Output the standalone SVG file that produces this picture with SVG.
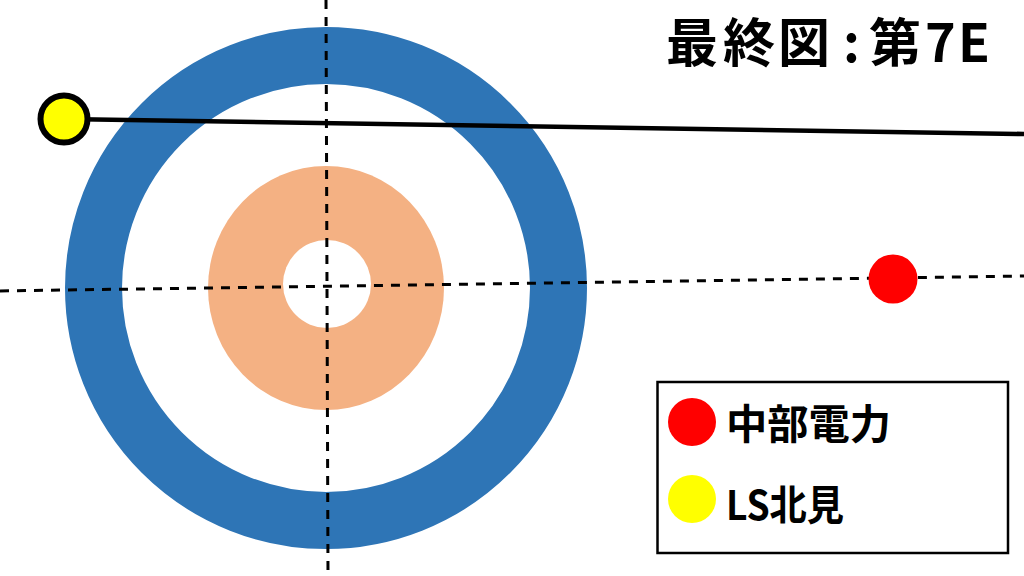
<svg xmlns="http://www.w3.org/2000/svg" width="1024" height="576" viewBox="0 0 1024 576">
  <style>
    .dash { stroke: #000; stroke-width: 3; stroke-dasharray: 9 8; fill: none; }
    .lbl { font-family: "Noto Sans CJK JP", "Liberation Sans", sans-serif; font-weight: bold; fill: #000; }
  </style>
  <rect width="1024" height="576" fill="#fff"/>
  <g id="house">
    <circle cx="326" cy="288" r="232.5" fill="none" stroke="#2E75B6" stroke-width="57"/>
    <ellipse cx="326" cy="288" rx="118" ry="122" fill="#F4B183"/>
    <circle cx="327" cy="284" r="44" fill="#fff"/>
  </g>
  <g id="connectors">
    <line class="dash" x1="326" y1="0" x2="328" y2="576"/>
    <line class="dash" x1="0" y1="291" x2="1024" y2="276"/>
    <line x1="64" y1="119" x2="1024" y2="134" stroke="#000" stroke-width="4.5"/>
  </g>
  <g id="stone-yellow">
    <circle cx="64" cy="119" r="23.5" fill="#FFFF00" stroke="#000" stroke-width="6"/>
  </g>
  <g id="stone-red">
    <circle cx="893" cy="279" r="24.5" fill="#FF0000"/>
  </g>
  <g id="title">
    <text class="lbl" x="666 723 778 843 869 925 958" y="62" font-size="52">最終図:第7E</text>
  </g>
  <g id="legend">
    <rect x="657.5" y="382" width="350.5" height="171" fill="#fff" stroke="#000" stroke-width="2.5"/>
    <circle cx="692" cy="422" r="24" fill="#FF0000"/>
    <circle cx="692" cy="499" r="24" fill="#FFFF00"/>
    <text class="lbl" x="726" y="439" font-size="41" textLength="165" lengthAdjust="spacingAndGlyphs">中部電力</text>
    <text class="lbl" x="726" y="520" font-size="41" textLength="118" lengthAdjust="spacingAndGlyphs">LS北見</text>
  </g>
</svg>
